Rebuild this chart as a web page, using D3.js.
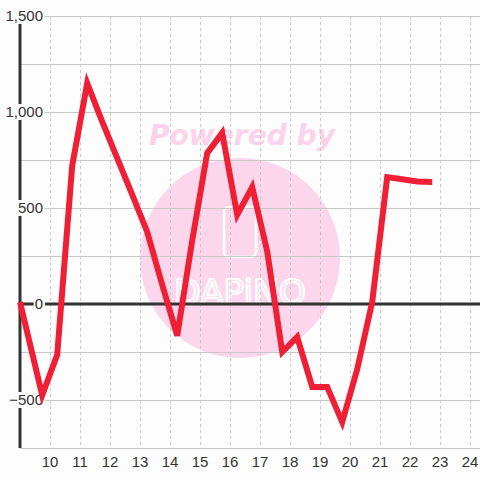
<!DOCTYPE html>
<html><head><meta charset="utf-8">
<script src="https://cdn.jsdelivr.net/npm/d3@7"></script>
<style>html,body{margin:0;padding:0;background:#fcfdfc;}svg{display:block;}</style>
</head><body>
<svg id="c" width="480" height="480"></svg>
<script>
const xValues = [9.0, 9.74, 10.24, 10.74, 11.24, 11.74, 12.24, 12.74, 13.24, 13.74, 14.24, 14.74, 15.24, 15.74, 16.24, 16.74, 17.24, 17.74, 18.24, 18.74, 19.24, 19.74, 20.24, 20.74, 21.24, 21.74, 22.24, 22.74];
const yValues = [10, -475, -265, 720, 1150, 950, 760, 570, 375, 100, -165, 330, 786, 891, 464, 609, 275, -250, -172, -432, -432, -615, -340, 10, 661, 650, 638, 636];
const xTicks = [10, 11, 12, 13, 14, 15, 16, 17, 18, 19, 20, 21, 22, 23, 24];
const yTickLabels = [1500, 1000, 500, 0, -500];
const yGrid = [1500, 1250, 1000, 750, 500, 250, 0, -250, -500, -750];

const svg = d3.select("#c");
const x = d3.scaleLinear().domain([9, 24.3333]).range([20, 480]);
const y = d3.scaleLinear().domain([-750, 1500]).range([448, 16]);
const font = "'Liberation Sans', Arial, sans-serif";

svg.append("rect").attr("width", 480).attr("height", 480).attr("fill", "#fcfdfc");

// watermark
const wm = svg.append("g");
wm.append("circle").attr("cx", 240).attr("cy", 258).attr("r", 100).attr("fill", "#fcd6eb");
wm.append("text").attr("x", 242).attr("y", 145).attr("text-anchor", "middle")
  .attr("font-family", "'DejaVu Sans', sans-serif").attr("font-weight", "bold").attr("font-style", "italic")
  .attr("font-size", 29).attr("fill", "#fcd3ea").attr("textLength", 186).attr("lengthAdjust", "spacingAndGlyphs")
  .text("Powered by");
wm.append("rect").attr("x", 224).attr("y", 207).attr("width", 32).attr("height", 50).attr("rx", 5)
  .attr("fill", "none").attr("stroke", "#ffffff").attr("stroke-width", 2.5);
wm.append("text").attr("x", 240).attr("y", 304).attr("text-anchor", "middle")
  .attr("font-family", "'DejaVu Sans', sans-serif").attr("font-size", 34)
  .attr("fill", "none").attr("stroke", "#ffffff").attr("stroke-width", 2)
  .attr("textLength", 132).attr("lengthAdjust", "spacingAndGlyphs").text("DAPiNO");

// grid
svg.append("g").selectAll("line").data(yGrid).join("line")
  .attr("x1", 20).attr("x2", 480).attr("y1", d => y(d)).attr("y2", d => y(d))
  .attr("stroke", "#c8c8c8").attr("stroke-width", 1).attr("shape-rendering", "crispEdges");
svg.append("g").selectAll("line").data(xTicks).join("line")
  .attr("x1", d => x(d)).attr("x2", d => x(d)).attr("y1", y(1500)).attr("y2", y(-750))
  .attr("stroke", "#c8c8c8").attr("stroke-width", 1).attr("stroke-dasharray", "3,3").attr("shape-rendering", "crispEdges");

// axes lines
svg.append("line").attr("x1", 20).attr("x2", 20).attr("y1", 24).attr("y2", 448)
  .attr("stroke", "#333").attr("stroke-width", 3);
svg.append("line").attr("x1", 20).attr("x2", 480).attr("y1", y(0)).attr("y2", y(0))
  .attr("stroke", "#333").attr("stroke-width", 3);

// y labels with background
const yl = svg.append("g").selectAll("g").data(yTickLabels).join("g");
const fmt = d3.format(",");
yl.each(function(d) {
  const g = d3.select(this);
  const t = g.append("text").attr("x", 43).attr("y", y(d)).attr("dy", "0.35em")
    .attr("text-anchor", "end").attr("font-family", font).attr("font-size", 15).attr("fill", "#333")
    .text(fmt(d));
  const bb = t.node().getBBox();
  g.insert("rect", "text").attr("x", bb.x - 1).attr("y", y(d) - 8).attr("width", bb.width + 3).attr("height", 16)
    .attr("fill", "#fcfdfc");
});

// x labels
svg.append("g").selectAll("text").data(xTicks).join("text")
  .attr("x", d => x(d)).attr("y", 467).attr("text-anchor", "middle")
  .attr("font-family", font).attr("font-size", 15).attr("fill", "#333").text(d => d);

// data line
const line = d3.line().x((d, i) => x(xValues[i])).y(d => y(d));
svg.append("path").datum(yValues).attr("d", line)
  .attr("fill", "none").attr("stroke", "#ef2035").attr("stroke-width", 6)
  .attr("stroke-linejoin", "miter").attr("stroke-linecap", "butt");
</script>
</body></html>
